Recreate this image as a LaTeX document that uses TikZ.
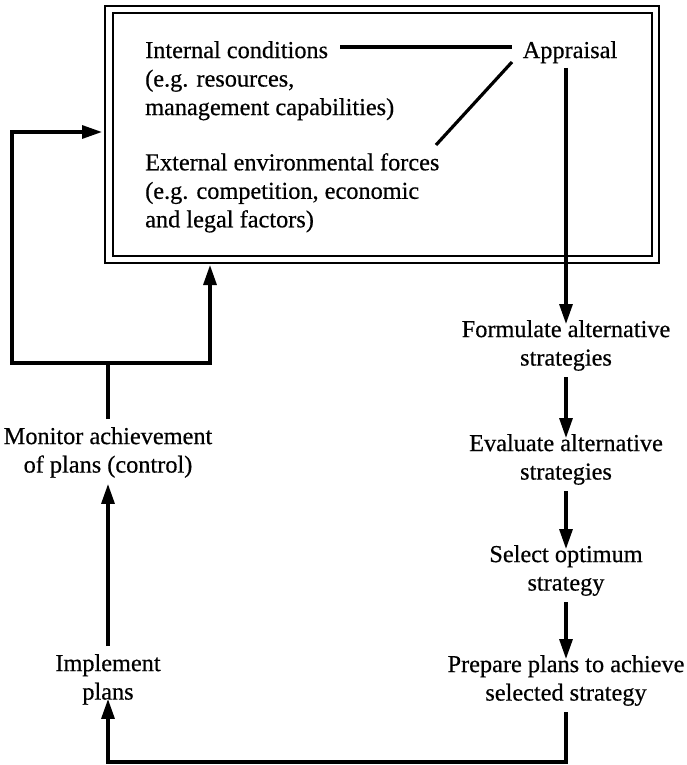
\documentclass[tikz,border=0pt]{standalone}
\usepackage{fontspec}
\setmainfont{Liberation Serif}[FakeBold=0.5]
\usetikzlibrary{arrows.meta}
\begin{document}
\begin{tikzpicture}[x=1pt,y=-1pt,
  lbl/.style={font=\fontsize{24.3}{28.5}\selectfont, inner sep=0pt, align=center},
  lbll/.style={lbl, align=left},
  flow/.style={line width=3.2pt, -{Triangle[length=20pt,width=13pt]}},
  link/.style={line width=3.2pt},
  frame/.style={line width=2pt}]
\useasboundingbox (0,0) rectangle (686,765);

% double frame round the appraisal block
\draw[frame] (105,6) rectangle (659,263);
\draw[frame] (113,13) rectangle (652,256);
\coordinate (boxW) at (102,132);
\coordinate (boxS) at (210,265);

% appraisal block
\node[lbll, anchor=north west] (int) at (145,41) {Internal conditions\\(e.g. resources,\\management capabilities)};
\node[lbll, anchor=north west] (ext) at (145,153) {External environmental forces\\(e.g. competition, economic\\and legal factors)};
\node[lbl, anchor=north] (app) at (570,41) {Appraisal};

% strategy steps
\node[lbl, anchor=north] (form) at (566,320) {Formulate alternative\\strategies};
\node[lbl, anchor=north] (eval) at (566,434) {Evaluate alternative\\strategies};
\node[lbl, anchor=north] (sel) at (566,545) {Select optimum\\strategy};
\node[lbl, anchor=north] (prep) at (566,655) {Prepare plans to achieve\\selected strategy};

% implementation and control
\node[lbl, anchor=north] (impl) at (108,654) {Implement\\plans};
\node[lbl, anchor=north] (mon) at (108,427) {Monitor achievement\\of plans (control)};

% links inside the frame
\coordinate (intR) at (340,47);
\coordinate (appL) at (512,47);
\coordinate (appD) at (512,62);
\coordinate (extR) at (436,145);
\draw[link] (intR) -- (appL);
\draw[link] (appD) -- (extR);

% main flow
\draw[flow] (566,68) -- ([yshift=-4pt]form.north);
\draw[flow, shorten <=6pt] (form.south) -- ([yshift=-4pt]eval.north);
\draw[flow, shorten <=6pt] (eval.south) -- ([yshift=-4pt]sel.north);
\draw[flow, shorten <=6pt] (sel.south) -- ([yshift=-4pt]prep.north);

\coordinate (bot) at (108,762);
\draw[flow, shorten <=6pt] (prep.south) |- (bot) -- ([yshift=6pt]impl.south);
\draw[flow, shorten <=8pt] (impl.north) -- ([yshift=-6pt]mon.south);

\coordinate (loop) at (108,363);
\draw[link, shorten <=8pt] (mon.north) -- (loop);
\draw[flow] (12,363) -| (boxS);
\draw[flow] (loop) -- (12,363) |- (boxW);
\end{tikzpicture}
\end{document}
